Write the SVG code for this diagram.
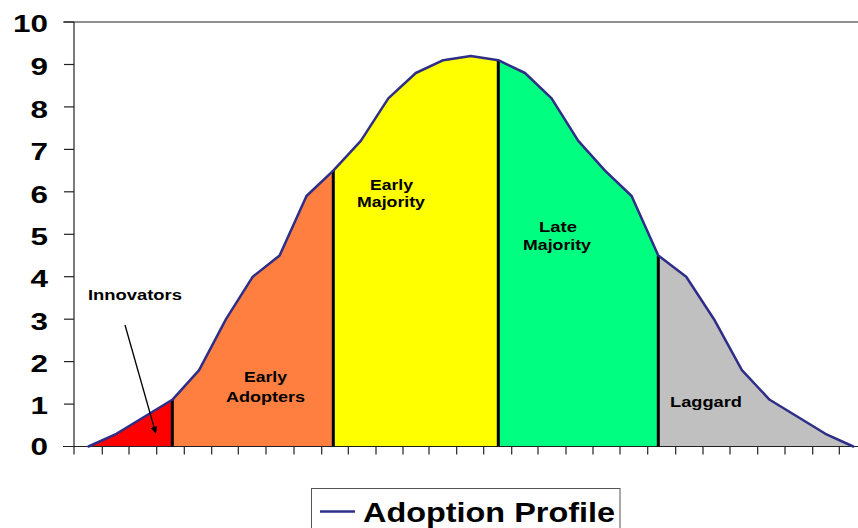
<svg xmlns="http://www.w3.org/2000/svg" width="858" height="528" viewBox="0 0 858 528">
  <style>
    .lbl { font-family: "Liberation Sans", Arial, sans-serif; font-weight: bold; fill: #000; }
    .seg { font-size: 14px; }
    .ylab { font-size: 23px; text-anchor: end; }
    .axis { stroke: #222; stroke-width: 1.2; fill: none; }
    .tick { stroke: #222; stroke-width: 1.2; }
    .div { stroke: #000; stroke-width: 3; }
    .curve { fill: none; stroke: #2E2E88; stroke-width: 2.5; stroke-linejoin: round; stroke-linecap: round; }
  </style>
  <defs>
    <marker id="arrow" viewBox="0 0 10 10" refX="9" refY="5" markerWidth="7" markerHeight="7" orient="auto" markerUnits="userSpaceOnUse">
      <path d="M0,0 L10,5 L0,10 z" fill="#000"/>
    </marker>
  </defs>
  <rect width="858" height="528" fill="#fff"/>

  <!-- plot frame -->
  <line class="axis" x1="63" y1="22" x2="858" y2="22"/>
  <line class="axis" x1="74" y1="22" x2="74" y2="446.5"/>

  <!-- y ticks and labels -->
  <g id="y-axis">
    <line class="tick" x1="64" y1="22" x2="74" y2="22"/>
    <line class="tick" x1="64" y1="64.5" x2="74" y2="64.5"/>
    <line class="tick" x1="64" y1="106.9" x2="74" y2="106.9"/>
    <line class="tick" x1="64" y1="149.4" x2="74" y2="149.4"/>
    <line class="tick" x1="64" y1="191.8" x2="74" y2="191.8"/>
    <line class="tick" x1="64" y1="234.3" x2="74" y2="234.3"/>
    <line class="tick" x1="64" y1="276.7" x2="74" y2="276.7"/>
    <line class="tick" x1="64" y1="319.2" x2="74" y2="319.2"/>
    <line class="tick" x1="64" y1="361.6" x2="74" y2="361.6"/>
    <line class="tick" x1="64" y1="404.1" x2="74" y2="404.1"/>
    <text class="lbl ylab" x="48" y="31.5" textLength="35" lengthAdjust="spacingAndGlyphs">10</text>
    <text class="lbl ylab" x="48" y="75" textLength="17.5" lengthAdjust="spacingAndGlyphs">9</text>
    <text class="lbl ylab" x="48" y="118" textLength="17.5" lengthAdjust="spacingAndGlyphs">8</text>
    <text class="lbl ylab" x="48" y="160" textLength="17.5" lengthAdjust="spacingAndGlyphs">7</text>
    <text class="lbl ylab" x="48" y="202.5" textLength="17.5" lengthAdjust="spacingAndGlyphs">6</text>
    <text class="lbl ylab" x="48" y="245" textLength="17.5" lengthAdjust="spacingAndGlyphs">5</text>
    <text class="lbl ylab" x="48" y="286.5" textLength="17.5" lengthAdjust="spacingAndGlyphs">4</text>
    <text class="lbl ylab" x="48" y="329.5" textLength="17.5" lengthAdjust="spacingAndGlyphs">3</text>
    <text class="lbl ylab" x="48" y="371.5" textLength="17.5" lengthAdjust="spacingAndGlyphs">2</text>
    <text class="lbl ylab" x="48" y="414" textLength="17.5" lengthAdjust="spacingAndGlyphs">1</text>
    <text class="lbl ylab" x="48" y="455" textLength="17.5" lengthAdjust="spacingAndGlyphs">0</text>
  </g>

  <!-- segments -->
  <g id="innovators">
    <polygon points="88.5,446.5 116.4,433.8 144.4,416.8 172.3,399.8 172.3,446.5" fill="#FF0000"/>
    <text class="lbl seg" x="88" y="300" textLength="94" lengthAdjust="spacingAndGlyphs">Innovators</text>
  </g>
  <g id="early-adopters">
    <polygon points="172.3,446.5 172.3,399.8 199.1,370.1 226,319.2 252.8,276.7 279.6,255.5 306.5,196 333.3,170.6 333.3,446.5" fill="#FF7F40"/>
    <text class="lbl seg" x="244" y="381.5" textLength="43" lengthAdjust="spacingAndGlyphs">Early</text>
    <text class="lbl seg" x="226" y="401.5" textLength="79" lengthAdjust="spacingAndGlyphs">Adopters</text>
  </g>
  <g id="early-majority">
    <polygon points="333.3,446.5 333.3,170.6 360.8,140.9 388.3,98.4 415.8,73 443.3,60.2 470.8,56 498.3,60.2 498.3,446.5" fill="#FFFF00"/>
    <text class="lbl seg" x="370" y="190" textLength="43" lengthAdjust="spacingAndGlyphs">Early</text>
    <text class="lbl seg" x="357" y="206.5" textLength="68" lengthAdjust="spacingAndGlyphs">Majority</text>
  </g>
  <g id="late-majority">
    <polygon points="498.3,446.5 498.3,60.2 525,73 551.6,98.4 578.3,140.9 605,170.6 631.6,196 658.3,255.5 658.3,446.5" fill="#00FF80"/>
    <text class="lbl seg" x="539" y="231.5" textLength="38" lengthAdjust="spacingAndGlyphs">Late</text>
    <text class="lbl seg" x="523" y="250" textLength="68" lengthAdjust="spacingAndGlyphs">Majority</text>
  </g>
  <g id="laggard">
    <polygon points="658.3,446.5 658.3,255.5 686.2,276.7 714,319.2 741.9,370.1 769.7,399.8 797.6,416.8 825.4,433.8 853.3,446.5" fill="#C0C0C0"/>
    <text class="lbl seg" x="670" y="406.5" textLength="72" lengthAdjust="spacingAndGlyphs">Laggard</text>
  </g>

  <!-- x axis -->
  <g id="x-axis">
    <line class="axis" x1="63" y1="446.5" x2="858" y2="446.5"/>
    <path class="tick" d="M74,446.5v8 M102.3,446.5v8 M129,446.5v8 M156.7,446.5v8 M184.3,446.5v8 M211.7,446.5v8 M238.3,446.5v8 M266,446.5v8 M294,446.5v8 M321.7,446.5v8 M348.3,446.5v8 M376,446.5v8 M403,446.5v8 M429,446.5v8 M456.7,446.5v8 M483.7,446.5v8 M511.7,446.5v8 M538,446.5v8 M566,446.5v8 M593,446.5v8 M620,446.5v8 M647.7,446.5v8 M675.7,446.5v8 M703,446.5v8 M730,446.5v8 M757.7,446.5v8 M785,446.5v8 M812.7,446.5v8 M839.3,446.5v8"/>
  </g>

  <!-- dividers -->
  <g id="dividers">
    <line class="div" x1="172.3" y1="446.5" x2="172.3" y2="399.8"/>
    <line class="div" x1="333.3" y1="446.5" x2="333.3" y2="170.6"/>
    <line class="div" x1="498.3" y1="446.5" x2="498.3" y2="60.2"/>
    <line class="div" x1="658.3" y1="446.5" x2="658.3" y2="255.5"/>
  </g>

  <!-- adoption profile curve -->
  <g id="adoption-profile">
    <polyline class="curve" points="88.5,446.5 116.4,433.8 144.4,416.8 172.3,399.8 199.1,370.1 226,319.2 252.8,276.7 279.6,255.5 306.5,196 333.3,170.6 360.8,140.9 388.3,98.4 415.8,73 443.3,60.2 470.8,56 498.3,60.2 525,73 551.6,98.4 578.3,140.9 605,170.6 631.6,196 658.3,255.5 686.2,276.7 714,319.2 741.9,370.1 769.7,399.8 797.6,416.8 825.4,433.8 853.3,446.5"/>
  </g>

  <!-- connectors -->
  <g id="connectors">
    <line x1="125" y1="325" x2="155.7" y2="433" stroke="#000" stroke-width="1.3" marker-end="url(#arrow)"/>
  </g>

  <!-- legend -->
  <g id="legend">
    <rect x="311.5" y="488.5" width="308.5" height="45" fill="#fff" stroke="#555" stroke-width="1"/>
    <line x1="320" y1="511.5" x2="355" y2="511.5" stroke="#2E2E88" stroke-width="2.5"/>
    <text class="lbl" x="363" y="521.5" font-size="27" textLength="252" lengthAdjust="spacingAndGlyphs">Adoption Profile</text>
  </g>
</svg>
